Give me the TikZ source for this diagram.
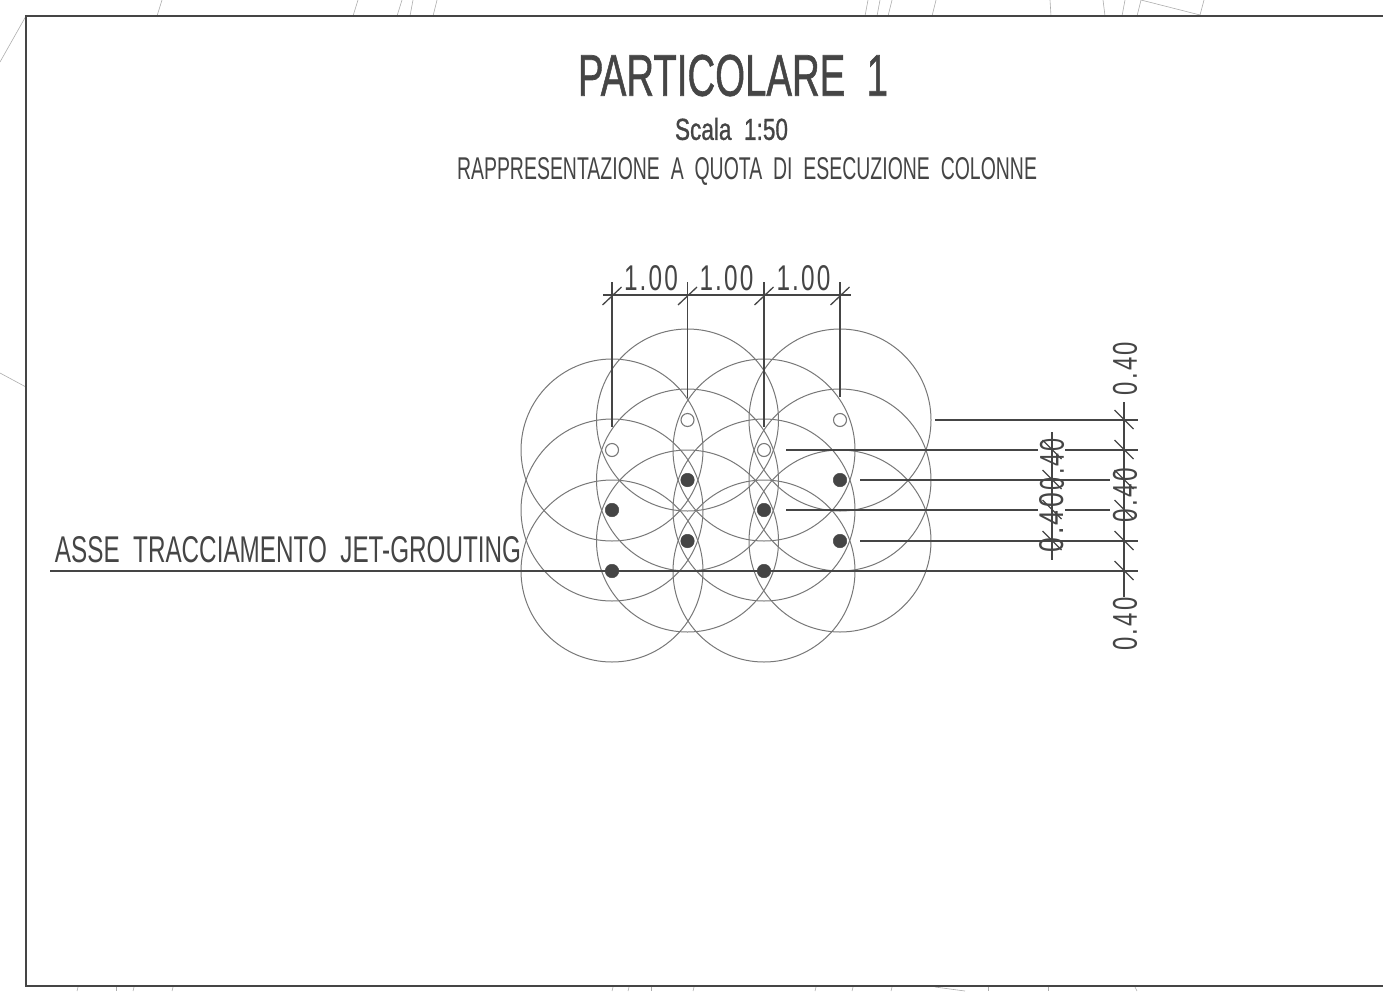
\documentclass[tikz,border=0pt]{standalone}
\usepackage{fontspec}
\usepackage{graphicx}
\setmainfont{Liberation Sans}
\newfontfamily\spaced[LetterSpace=9]{Liberation Sans}
\newfontfamily\semibold[FakeBold=1.2]{Liberation Sans}
\newcommand{\fitbox}[3]{\resizebox{#1pt}{#2pt}{#3}}
\definecolor{ink}{gray}{0.27}
\definecolor{ring}{gray}{0.47}
\definecolor{hair}{gray}{0.68}
\tikzset{
  x=1pt,y=-1pt,
  label text/.style={inner sep=0pt,outer sep=0pt,text=ink,anchor=center},
  jet ring/.style={circle,draw=ring,line width=1pt,minimum size=182pt,inner sep=0pt},
  open pile/.style={circle,draw=ring,fill=white,line width=1.1pt,minimum size=13pt,inner sep=0pt},
  solid pile/.style={circle,draw=ink,fill=ink,line width=0.5pt,minimum size=13.5pt,inner sep=0pt},
  dim line/.style={draw=ink,line width=1.3pt},
  frame line/.style={draw=ink,line width=1.7pt},
  hair line/.style={draw=hair,line width=0.6pt},
}
\begin{document}
\begin{tikzpicture}
\useasboundingbox (0,0) rectangle (1383,991);
% faint background lines
\foreach \a/\b/\c/\d in {26/16/0/62,0/373/26/387,157/16/162/0,353/16/358/0,397/16/402/0,410/16/413/0,433/16/437/0,
 865/16/868/0,877/16/880/0,888/16/892/0,932/16/936/0,1051/16/1050/0,1105/16/1103/0,1122/16/1125/0,1137/16/1141/0,1141/0/1200/15,1200/15/1204/0,
 78/987/77/991,116/987/116/991,134/987/133/991,173/987/172/991,613/987/612/991,629/987/628/991,651/987/651/991,694/987/693/991,816/987/815/991,853/987/852/991,892/987/891/991,935/987/965/991,988/987/988/991,1048/987/1048/991,1135/987/1137/991}
  \draw[hair line] (\a,\b) -- (\c,\d);
% frame
\draw[frame line] (1383,16) -- (26,16) -- (26,986) -- (1383,986);
% titles
\node[label text] (title) at (733,75.5) {\fitbox{310}{41}{\semibold PARTICOLARE\ \ 1}};
\node[label text] (scale) at (731.5,129) {\fitbox{113}{22}{\semibold Scala\ \ 1:50}};
\node[label text] (subtitle) at (747,171) {\fitbox{580}{22}{RAPPRESENTAZIONE\ \ A\ \ QUOTA\ \ DI\ \ ESECUZIONE\ \ COLONNE}};
\node[label text] (axis label) at (288,550) {\fitbox{466}{26}{ASSE\ \ TRACCIAMENTO\ \ JET-GROUTING}};
% rings
\foreach \n/\x/\y in {a1/612/450,a2/612/510,a3/612/571,b1/687.5/420,b2/687.5/480,b3/687.5/541,c1/764/450,c2/764/510,c3/764/571,d1/840/420,d2/840/480,d3/840/541}
  \node[jet ring] (r\n) at (\x,\y) {};
% coordinates
\foreach \n/\x in {1/612,2/687.5,3/764,4/840}{
  \coordinate (t\n) at (\x,295);
  \coordinate (u\n) at (\x,282);
}
\coordinate (tl) at (603,295);
\coordinate (tr) at (851,295);
\coordinate (e1) at (612,427);
\coordinate (e2) at (687.5,398);
\coordinate (e3) at (764,427);
\coordinate (e4) at (840,397);
\foreach \n/\y in {1/420,2/450,3/480,4/510,5/541,6/571}{
  \coordinate (v\n) at (1124,\y);
  \coordinate (w\n) at (1052,\y);
  \coordinate (z\n) at (1138,\y);
}
% top dimension
\draw[dim line] (tl) -- (tr);
\foreach \n in {1,2,3,4}{
  \draw[dim line] ([shift={(-9.5,10)}]t\n) -- ([shift={(9.5,-8)}]t\n);
}
\draw[dim line] (u1) -- (e1);
\draw[dim line] (u2) -- (e2);
\draw[dim line] (u3) -- (e3);
\draw[dim line] (u4) -- (e4);
\node[label text] (top a) at (651,278) {\fitbox{54}{25}{\spaced 1.00}};
\node[label text] (top b) at (726.5,278) {\fitbox{54}{25}{\spaced 1.00}};
\node[label text] (top c) at (803.5,278) {\fitbox{54}{25}{\spaced 1.00}};
% witness lines on the right
\coordinate (h1) at (935,420);
\coordinate (h2) at (786,450);
\coordinate (h3) at (860,480);
\coordinate (h4) at (786,510);
\coordinate (h5) at (860,541);
\coordinate (h6) at (50,571);
\coordinate (g2a) at (1038,450);
\coordinate (g2b) at (1065,450);
\coordinate (g4a) at (1038,510);
\coordinate (g4b) at (1065,510);
\coordinate (s3) at (1110,480);
\coordinate (s4) at (1110,510);
\coordinate (ax) at (1085,571);
\draw[dim line] (h1) -- (z1);
\draw[dim line] (h2) -- (g2a);
\draw[dim line] (g2b) -- (z2);
\draw[dim line] (h3) -- (s3);
\draw[dim line] (h4) -- (g4a);
\draw[dim line] (g4b) -- (s4);
\draw[dim line] (h5) -- (z5);
\draw[draw=ink,line width=1.7pt] (h6) -- (ax);
\draw[dim line] (ax) -- (z6);
% right dimension
\coordinate (vt) at (1124,402);
\coordinate (vb) at (1124,597);
\draw[dim line] (vt) -- (vb);
\foreach \n in {1,2,3,4,5,6}
  \draw[dim line] ([shift={(-9.5,-10)}]v\n) -- ([shift={(9.5,9)}]v\n);
\node[label text,rotate=90] (dim top) at (1125,368.5) {\fitbox{53}{24}{\spaced 0.40}};
\node[label text,rotate=90] (dim mid) at (1125,495) {\fitbox{54}{24}{\spaced 0.40}};
\node[label text,rotate=90] (dim bot) at (1125,624) {\fitbox{53}{24}{\spaced 0.40}};
% inner dimension
\coordinate (it) at (1052,432);
\coordinate (ib) at (1052,560);
\draw[dim line] (it) -- (ib);
\foreach \n in {2,3,4,5}
  \draw[dim line] ([shift={(-9.5,-10)}]w\n) -- ([shift={(9.5,9)}]w\n);
\node[label text,rotate=90] (inner top) at (1052,464) {\fitbox{52}{24}{\spaced 0.40}};
\node[label text,rotate=90] (inner bot) at (1052,522.5) {\fitbox{59}{24}{\spaced 0.40}};
% piles
\foreach \n/\x/\y in {a1/612/450,b1/687.5/420,c1/764/450,d1/840/420}
  \node[open pile] (p\n) at (\x,\y) {};
\foreach \n/\x/\y in {a2/612/510,a3/612/571,b2/687.5/480,b3/687.5/541,c2/764/510,c3/764/571,d2/840/480,d3/840/541}
  \node[solid pile] (p\n) at (\x,\y) {};
\end{tikzpicture}
\end{document}
